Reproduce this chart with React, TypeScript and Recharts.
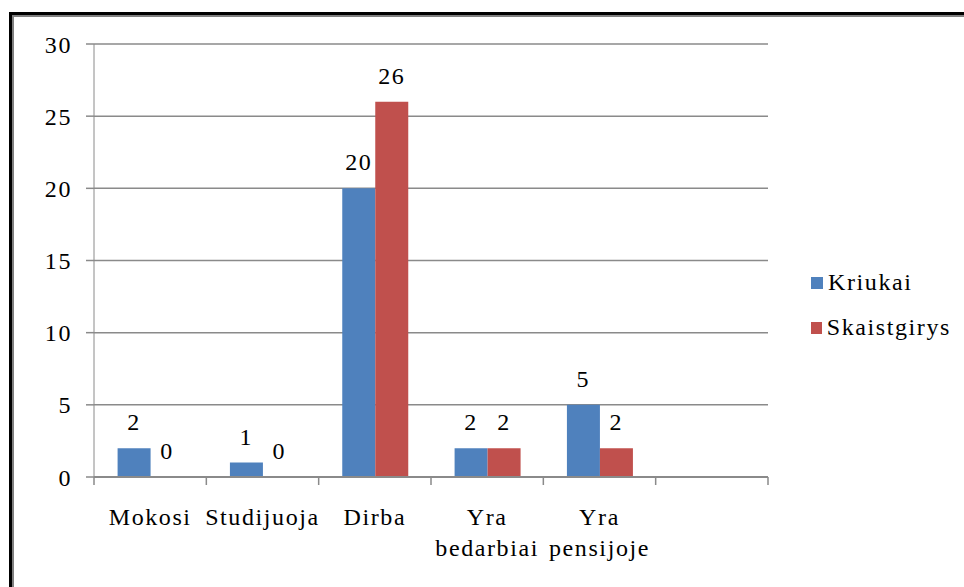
import { Bar, BarChart, CartesianGrid, LabelList, Legend, XAxis, YAxis } from 'recharts';

const categories = ['Mokosi', 'Studijuoja', 'Dirba', 'Yra bedarbiai', 'Yra pensijoje', ''];
const kriukai = [2, 1, 20, 2, 5, null];
const skaistgirys = [0, 0, 26, 2, 2, null];
const yTicks = [0, 5, 10, 15, 20, 25, 30];

const series = [
  { key: 'kriukai', name: 'Kriukai', color: '#4F81BD' },
  { key: 'skaistgirys', name: 'Skaistgirys', color: '#C0504D' },
];

const data = categories.map((name, i) => ({
  name,
  kriukai: kriukai[i],
  skaistgirys: skaistgirys[i],
}));

const FONT = '"Liberation Serif", "Times New Roman", serif';
const AXIS = '#8a8a8a';
const textStyle = { fontFamily: FONT, fontSize: 24, letterSpacing: 1.6, fill: '#000' };

function CategoryTick(props: any) {
  const { x, y, payload, index } = props;
  const half = payload.offset || 56;
  const lines = String(payload.value).split(' ').filter(Boolean);
  const last = index === categories.length - 1;
  return (
    <g>
      <line x1={x - half} x2={x - half} y1={y} y2={y + 8} stroke={AXIS} strokeWidth={1.5} />
      {last && <line x1={x + half} x2={x + half} y1={y} y2={y + 8} stroke={AXIS} strokeWidth={1.5} />}
      <text x={x} y={y + 48} textAnchor="middle" style={textStyle}>
        {lines.map((l, i) => (
          <tspan key={i} x={x} dy={i === 0 ? 0 : 31}>
            {l}
          </tspan>
        ))}
      </text>
    </g>
  );
}

// draws the value above the bar, also for zero values
function ValueLabel(props: any) {
  const { x, y, width, value } = props;
  if (value === null || value === undefined) return null;
  return (
    <text x={x + width / 2} y={y - 18} textAnchor="middle" style={textStyle}>
      {value}
    </text>
  );
}

function LegendBox() {
  return (
    <div style={{ width: 140, fontFamily: FONT, fontSize: 24, letterSpacing: 1.6, color: '#000' }}>
      {series.map((s) => (
        <div key={s.key} style={{ display: 'flex', alignItems: 'center', height: 45 }}>
          <span style={{ width: 12, height: 12, background: s.color, marginRight: 5, display: 'inline-block' }} />
          {s.name}
        </div>
      ))}
    </div>
  );
}

export default function App() {
  return (
    <div style={{ position: 'relative', width: 964, height: 587, overflow: 'hidden', background: '#fff' }}>
      <style>{'body{margin:0;overflow:hidden}'}</style>
      {/* picture frame, cut off at right and bottom */}
      <div
        style={{
          position: 'absolute',
          left: 9,
          top: 12,
          width: 1000,
          height: 700,
          border: '3px solid #000',
        }}
      >
        <div style={{ width: '100%', height: '100%', border: '2px solid #808080', boxSizing: 'border-box' }} />
      </div>
      <div style={{ position: 'absolute', left: 0, top: 0 }}>
        <BarChart
          width={964}
          height={587}
          data={data}
          margin={{ top: 44, right: 56, left: 34, bottom: 30 }}
          barCategoryGap="21%"
          barGap={0}
          style={{ fontFamily: FONT }}
        >
          <CartesianGrid vertical={false} stroke={AXIS} strokeWidth={1.5} />
          <XAxis
            dataKey="name"
            interval={0}
            height={80}
            tickSize={0}
            tickMargin={0}
            tickLine={false}
            axisLine={{ stroke: AXIS, strokeWidth: 2 }}
            tick={<CategoryTick />}
          />
          <YAxis
            width={60}
            domain={[0, 30]}
            ticks={yTicks}
            interval={0}
            tickSize={8}
            tickMargin={14}
            axisLine={{ stroke: AXIS }}
            tickLine={{ stroke: AXIS, strokeWidth: 1.5 }}
            tick={textStyle}
          />
          <Legend
            layout="vertical"
            align="right"
            verticalAlign="middle"
            wrapperStyle={{ left: 811, right: 'auto', top: 260 }}
            content={<LegendBox />}
          />
          {series.map((s) => (
            <Bar
              key={s.key}
              dataKey={s.key}
              name={s.name}
              fill={s.color}
              minPointSize={0.01}
              isAnimationActive={false}
            >
              <LabelList dataKey={s.key} content={<ValueLabel />} />
            </Bar>
          ))}
        </BarChart>
      </div>
    </div>
  );
}
